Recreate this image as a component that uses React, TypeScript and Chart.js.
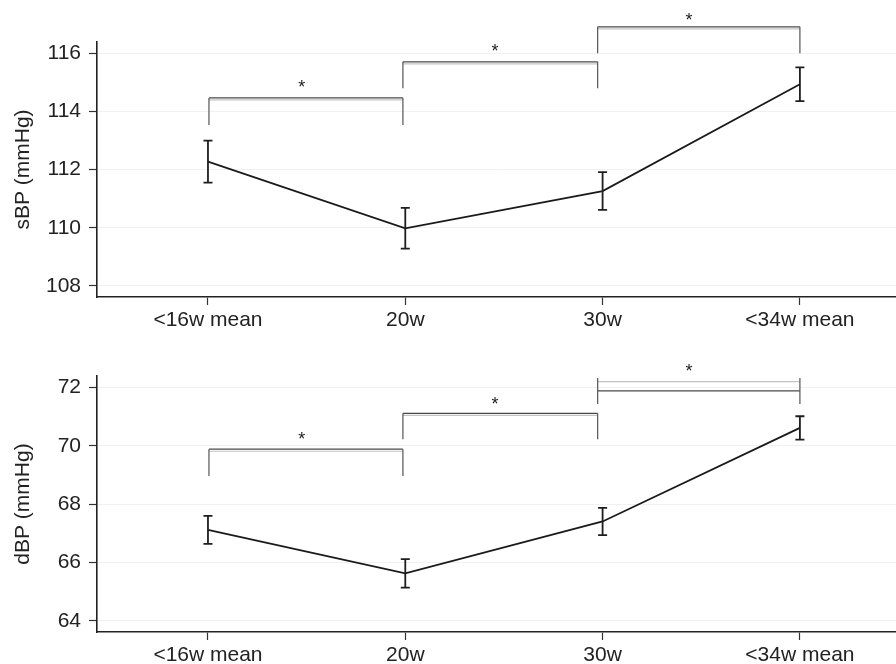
import React, { useEffect, useRef } from "react";
import { Chart, registerables } from "chart.js";
Chart.register(...registerables);

const categories = ["<16w mean", "20w", "30w", "<34w mean"];
const xPositions = [1, 2, 3, 4];

const sbpMean = [112.27, 109.98, 111.26, 114.93];
const sbpErr = [0.72, 0.7, 0.65, 0.58];
const dbpMean = [67.12, 65.63, 67.41, 70.62];
const dbpErr = [0.48, 0.49, 0.47, 0.4];

const sbpTicks = [108, 110, 112, 114, 116];
const dbpTicks = [64, 66, 68, 70, 72];

// significance brackets (x in category units, y in mmHg)
const bracketFrom = [1.005, 1.988, 2.975];
const bracketTo = [1.988, 2.975, 4.0];
const starX = [1.475, 2.455, 3.438];
const starLabels = ["*", "*", "*"];

const sbpBracketLine = [114.46, 115.7, 116.9];
const sbpBracketShade = [114.39, 115.63, 116.83];
const sbpBracketTop = [114.46, 115.7, 116.9];
const sbpBracketFoot = [113.53, 114.79, 115.99];
const sbpStarY = [114.97, 116.2, 117.27];

const dbpBracketLine = [69.89, 71.12, 71.89];
const dbpBracketShade = [69.82, 71.05, 72.21];
const dbpBracketTop = [69.89, 71.12, 72.33];
const dbpBracketFoot = [68.97, 70.23, 71.44];
const dbpStarY = [70.38, 71.6, 72.71];

const FONT = "'Liberation Sans', Arial, Helvetica, sans-serif";
const TEXT = "#222";
const FS = 21;

type PanelProps = {
  height: number;
  topPad: number;
  xAxisHeight: number;
  title: string;
  means: number[];
  errs: number[];
  ticks: number[];
  yMin: number;
  yMax: number;
  bLine: number[];
  bShade: number[];
  bTop: number[];
  bFoot: number[];
  sY: number[];
};

function Panel(p: PanelProps) {
  const ref = useRef<HTMLCanvasElement | null>(null);
  useEffect(() => {
    if (!ref.current) return;
    const overlay = {
      id: "overlay",
      afterDatasetsDraw(chart: any) {
        const ctx = chart.ctx;
        const xs = chart.scales.x;
        const ys = chart.scales.y;
        ctx.save();
        // error bars
        ctx.strokeStyle = "#1e1e1e";
        ctx.lineWidth = 1.8;
        p.means.forEach((m, i) => {
          const x = xs.getPixelForValue(xPositions[i]);
          const yt = ys.getPixelForValue(m + p.errs[i]);
          const yb = ys.getPixelForValue(m - p.errs[i]);
          ctx.beginPath();
          ctx.moveTo(x, yt);
          ctx.lineTo(x, yb);
          ctx.moveTo(x - 4.5, yt);
          ctx.lineTo(x + 4.5, yt);
          ctx.moveTo(x - 4.5, yb);
          ctx.lineTo(x + 4.5, yb);
          ctx.stroke();
        });
        // brackets
        bracketFrom.forEach((f, i) => {
          const x1 = xs.getPixelForValue(f);
          const x2 = xs.getPixelForValue(bracketTo[i]);
          const yl = ys.getPixelForValue(p.bLine[i]);
          const ysd = ys.getPixelForValue(p.bShade[i]);
          const yt = ys.getPixelForValue(p.bTop[i]);
          const yf = ys.getPixelForValue(p.bFoot[i]);
          ctx.lineWidth = 1.2;
          ctx.strokeStyle = "#c4c4c4";
          ctx.beginPath();
          ctx.moveTo(x1, ysd);
          ctx.lineTo(x2, ysd);
          ctx.stroke();
          ctx.strokeStyle = "#4a4a4a";
          ctx.beginPath();
          ctx.moveTo(x1, yl);
          ctx.lineTo(x2, yl);
          ctx.stroke();
          ctx.strokeStyle = "#555";
          ctx.beginPath();
          ctx.moveTo(x1, yf);
          ctx.lineTo(x1, yt);
          ctx.moveTo(x2, yf);
          ctx.lineTo(x2, yt);
          ctx.stroke();
          // star
          const size = 18;
          ctx.font = `${size}px ${FONT}`;
          ctx.fillStyle = TEXT;
          ctx.textAlign = "center";
          ctx.textBaseline = "alphabetic";
          const sx = xs.getPixelForValue(starX[i]);
          const sy = ys.getPixelForValue(p.sY[i]);
          ctx.fillText(starLabels[i], sx, sy + 0.57 * size);
        });
        ctx.restore();
      },
    };
    const chart = new Chart(ref.current, {
      type: "line",
      data: {
        datasets: [
          {
            data: p.means.map((m, i) => ({ x: xPositions[i], y: m })),
            borderColor: "#1a1a1a",
            borderWidth: 1.8,
            pointRadius: 0,
            tension: 0,
            fill: false,
          },
        ],
      },
      options: {
        animation: false,
        responsive: false,
        devicePixelRatio: 1,
        layout: { padding: { top: p.topPad, left: 0, right: 0, bottom: 0 } },
        plugins: { legend: { display: false }, tooltip: { enabled: false } },
        scales: {
          x: {
            type: "linear",
            min: 0.4376,
            max: 4.487,
            afterBuildTicks: (s: any) => {
              s.ticks = xPositions.map((v) => ({ value: v }));
            },
            afterFit: (s: any) => {
              s.height = p.xAxisHeight;
            },
            ticks: {
              callback: (v: any) => categories[xPositions.indexOf(Number(v))] ?? "",
              font: { family: FONT, size: FS },
              color: TEXT,
              padding: 3,
              maxRotation: 0,
              autoSkip: false,
            },
            grid: {
              drawOnChartArea: false,
              drawTicks: true,
              tickLength: 8,
              tickColor: "#333",
              tickWidth: 1.2,
            },
            border: { display: true, color: "#222", width: 1.6 },
          },
          y: {
            type: "linear",
            min: p.yMin,
            max: p.yMax,
            afterBuildTicks: (s: any) => {
              s.ticks = p.ticks.map((v) => ({ value: v }));
            },
            afterFit: (s: any) => {
              s.width = 97;
            },
            ticks: {
              font: { family: FONT, size: FS },
              color: TEXT,
              padding: 8,
            },
            grid: {
              color: "#f1f1f1",
              lineWidth: 1,
              drawTicks: true,
              tickLength: 8,
              tickColor: "#333",
              tickWidth: 1.2,
            },
            border: { display: true, color: "#222", width: 1.6 },
            title: {
              display: true,
              text: p.title,
              font: { family: FONT, size: FS },
              color: TEXT,
              padding: { top: 11, bottom: 0 },
            },
          },
        },
      },
      plugins: [overlay],
    } as any);
    return () => chart.destroy();
  }, []);
  return (
    <canvas
      ref={ref}
      width={896}
      height={p.height}
      style={{ display: "block", width: 896, height: p.height }}
    />
  );
}

export default function App() {
  return (
    <div
      style={{
        position: "absolute",
        left: 0,
        top: 0,
        width: 896,
        height: 664,
        background: "#fff",
        overflow: "hidden",
      }}
    >
      <Panel
        height={340}
        topPad={42}
        xAxisHeight={43}
        title="sBP (mmHg)"
        means={sbpMean}
        errs={sbpErr}
        ticks={sbpTicks}
        yMin={107.62}
        yMax={116.38}
        bLine={sbpBracketLine}
        bShade={sbpBracketShade}
        bTop={sbpBracketTop}
        bFoot={sbpBracketFoot}
        sY={sbpStarY}
      />
      <Panel
        height={324}
        topPad={36}
        xAxisHeight={32}
        title="dBP (mmHg)"
        means={dbpMean}
        errs={dbpErr}
        ticks={dbpTicks}
        yMin={63.62}
        yMax={72.4}
        bLine={dbpBracketLine}
        bShade={dbpBracketShade}
        bTop={dbpBracketTop}
        bFoot={dbpBracketFoot}
        sY={dbpStarY}
      />
    </div>
  );
}
